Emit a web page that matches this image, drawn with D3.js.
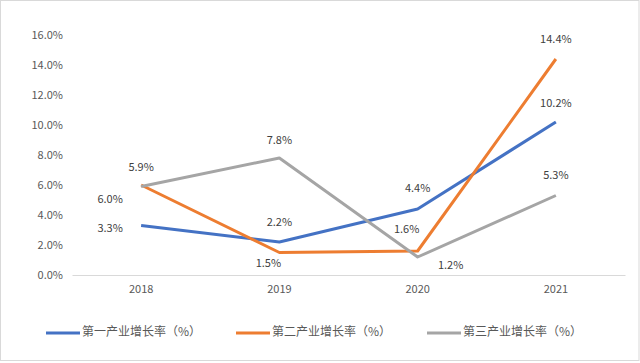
<!DOCTYPE html>
<html>
<head>
<meta charset="utf-8">
<script src="https://cdn.jsdelivr.net/npm/d3@7"></script>
<style>
  body { margin: 0; background: #fff; }
  text { font-family: "Microsoft YaHei", "Noto Sans CJK SC", "DejaVu Sans", sans-serif; }
</style>
</head>
<body>
<div id="chart"></div>
<script>
var years = ['2018', '2019', '2020', '2021'];
var yTicks = [0, 2, 4, 6, 8, 10, 12, 14, 16];

var seriesNames = ['第一产业增长率（%）', '第二产业增长率（%）', '第三产业增长率（%）'];
var primary   = [3.3, 2.2, 4.4, 10.2];
var secondary = [6.0, 1.5, 1.6, 14.4];
var tertiary  = [5.9, 7.8, 1.2, 5.3];
var seriesValues = [primary, secondary, tertiary];
var seriesColors = ['#4472c4', '#ed7d31', '#a5a5a5'];

// where each data label sits relative to its point (dx, dy)
var labelOffsets = [
    [[-31, 4], [0, -19], [0, -20], [0, -18]],
    [[-31, 15], [-11, 12], [-11, -21], [0, -19]],
    [[0, -18], [0, -17], [33, 9], [0, -19]]
];

var width = 640, height = 363;

var x = d3.scaleBand().domain(years).range([72, 625]);
var y = d3.scaleLinear().domain([0, 16]).range([275, 35]);
var fmt = d3.format('.1f');

var svg = d3.select('#chart').append('svg')
    .attr('width', width).attr('height', height);

svg.append('rect')
   .attr('x', 0.5).attr('y', 0.5)
   .attr('width', width - 1.5).attr('height', height - 3)
   .attr('fill', '#fff').attr('stroke', '#d9d9d9');

// y axis labels, no line
var yAxis = svg.append('g')
    .attr('transform', 'translate(66,0)')
    .call(d3.axisLeft(y).tickValues(yTicks).tickSize(0)
            .tickFormat(function(d) { return fmt(d) + '%'; }));
yAxis.select('.domain').remove();
yAxis.selectAll('text')
     .attr('fill', '#595959').style('font-size', '11px');

// x axis
var xAxis = svg.append('g')
    .attr('transform', 'translate(0,' + y(0) + ')')
    .call(d3.axisBottom(x).tickSize(0).tickPadding(10));
xAxis.select('.domain').attr('stroke', '#d9d9d9').attr('stroke-width', 1.2);
xAxis.selectAll('text')
     .attr('fill', '#595959').style('font-size', '11px');

var line = d3.line()
    .x(function(d, i) { return x(years[i]) + x.bandwidth() / 2; })
    .y(function(d) { return y(d); });

seriesValues.forEach(function(vals, s) {
    svg.append('path')
       .datum(vals)
       .attr('d', line)
       .attr('fill', 'none')
       .attr('stroke', seriesColors[s])
       .attr('stroke-width', 3)
       .attr('stroke-linejoin', 'round');
});

seriesValues.forEach(function(vals, s) {
    svg.append('g').selectAll('text').data(vals).enter()
       .append('text')
       .attr('x', function(d, i) { return x(years[i]) + x.bandwidth() / 2 + labelOffsets[s][i][0]; })
       .attr('y', function(d, i) { return y(d) + labelOffsets[s][i][1]; })
       .attr('text-anchor', 'middle')
       .attr('dominant-baseline', 'middle')
       .attr('fill', '#404040')
       .style('font-size', '11px')
       .text(function(d) { return fmt(d) + '%'; });
});

// legend
var legendX = [46, 236, 427];
var legend = svg.append('g').selectAll('g').data(seriesNames).enter()
    .append('g')
    .attr('transform', function(d, i) { return 'translate(' + legendX[i] + ',333)'; });
legend.append('line')
      .attr('x1', 0).attr('x2', 34)
      .attr('stroke', function(d, i) { return seriesColors[i]; })
      .attr('stroke-width', 3);
legend.append('text')
      .attr('x', 36)
      .attr('dominant-baseline', 'middle')
      .attr('fill', '#595959')
      .style('font-size', '12px')
      .text(function(d) { return d; });
</script>
</body>
</html>
